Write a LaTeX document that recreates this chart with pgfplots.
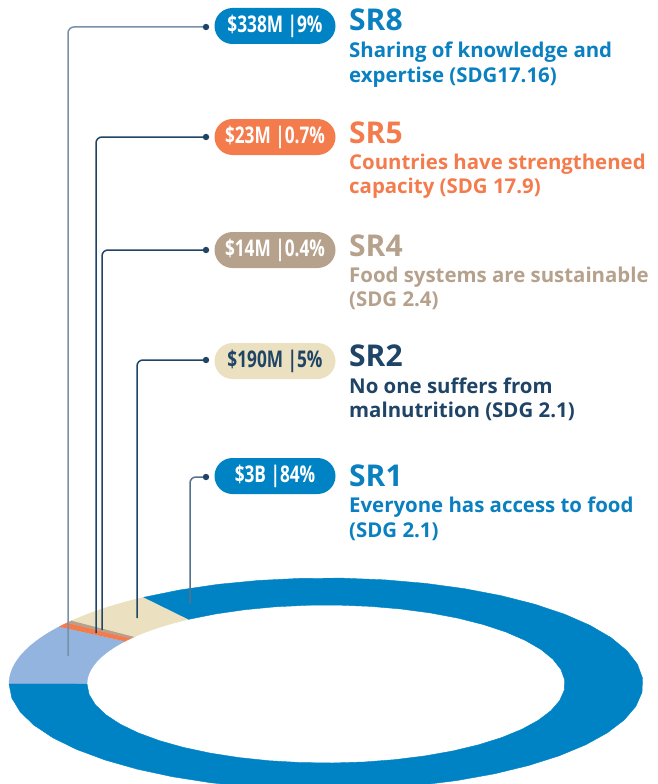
\documentclass[border=0pt]{standalone}
\usepackage{pgfplots}
\pgfplotsset{compat=1.18}
\usepackage{pgfplotstable}
\usepackage{fontspec}
\setmainfont{Open Sans}
\newfontfamily\pillfont[FakeStretch=0.75]{Open Sans}
\newfontfamily\descfont{Open Sans}
\definecolor{srblue}{HTML}{0083C4}
\definecolor{srtxtblue}{HTML}{0A80C0}
\definecolor{srlight}{HTML}{93B4DF}
\definecolor{srorange}{HTML}{F47B4C}
\definecolor{srtan}{HTML}{B5A18C}
\definecolor{srbeige}{HTML}{EBE0BF}
\definecolor{srnavy}{HTML}{1F4466}
\definecolor{srgrey}{HTML}{7890A8}

\pgfplotstableread{
name pct
SR8 9
SR5 0.7
SR4 0.4
SR2 5
SR1 84
}\shares
\pgfplotstablegetelem{0}{pct}\of\shares \let\pA\pgfplotsretval
\pgfplotstablegetelem{1}{pct}\of\shares \let\pB\pgfplotsretval
\pgfplotstablegetelem{2}{pct}\of\shares \let\pC\pgfplotsretval
\pgfplotstablegetelem{3}{pct}\of\shares \let\pD\pgfplotsretval
\pgfplotstablegetelem{4}{pct}\of\shares \let\pE\pgfplotsretval
\pgfmathsetmacro\tot{\pA+\pB+\pC+\pD+\pE}
\pgfmathsetmacro\aA{180-(\pA/\tot)*360}
\pgfmathsetmacro\aB{\aA-(\pB/\tot)*360}
\pgfmathsetmacro\aC{\aB-(\pC/\tot)*360}
\pgfmathsetmacro\aD{\aC-(\pD/\tot)*360}
\pgfmathsetmacro\aE{\aD-(\pE/\tot)*360}

% ring segment from angle #2 to #3
\newcommand{\seg}[3]{%
 \addplot[fill=#1, draw=#1, line width=0.4pt, samples at={0,1,...,81}, variable=\s]
 ({326+ifthenelse(\s<=40,317,239)*cos(ifthenelse(\s<=40,#2+(#3-#2)*\s/40,#3+(#2-#3)*(\s-41)/40))},
  {684-ifthenelse(\s<=40,106,79)*sin(ifthenelse(\s<=40,#2+(#3-#2)*\s/40,#3+(#2-#3)*(\s-41)/40))});
}
\newcommand{\pill}[4]{% y, fill, text colour, text
 \node[fill=#2, text=#3, rounded corners=18pt, minimum width=121pt, minimum height=36pt, inner sep=0pt]
   at (axis cs:275,#1) {\pillfont\bfseries\fontsize{23}{23}\selectfont #4};
}
\newcommand{\entry}[7]{% colour, y1, y2, y3, title, line1, line2
 \node[anchor=base west, text=#1, inner sep=0pt] at (axis cs:349,#2) {\fontsize{30}{30}\selectfont\bfseries #5};
 \node[anchor=base west, text=#1, inner sep=0pt] at (axis cs:349,#3) {\descfont\bfseries\fontsize{20.4}{20.4}\selectfont #6};
 \node[anchor=base west, text=#1, inner sep=0pt] at (axis cs:349,#4) {\descfont\bfseries\fontsize{20.4}{20.4}\selectfont #7};
}
\newcommand{\leader}[4]{% colour, y, x
 \addplot[#1, line width=1.5pt, rounded corners=6pt, mark=*, mark indices={1}, mark size=2.4pt, mark options={fill=srnavy, draw=srnavy}] coordinates {(206,#2) (#3,#2) (#3,#4)};
}

\begin{document}
\begin{tikzpicture}
\useasboundingbox (0,0) rectangle (657pt,784pt);
\begin{axis}[
  at={(0,0)}, anchor=south west,
  scale only axis, width=657pt, height=784pt,
  xmin=0, xmax=657, ymin=0, ymax=784, y dir=reverse,
  hide axis, clip=true,
]
\seg{srlight}{180}{\aA}
\seg{srorange}{\aA}{\aB}
\seg{srtan}{\aB}{\aC}
\seg{srbeige}{\aC}{\aD}
\seg{srblue}{\aD}{\aE}

\leader{srgrey}{27}{68}{656}
\leader{srnavy}{137}{96}{633}
\leader{srnavy}{250}{102}{630}
\leader{srnavy}{360}{137}{618}
\leader{srgrey!60!srnavy}{477}{190}{604}

\pill{26}{srblue}{white}{\$338M |9\%}
\pill{137}{srorange}{white}{\$23M |0.7\%}
\pill{250}{srtan}{white}{\$14M |0.4\%}
\pill{361}{srbeige}{srnavy}{\$190M |5\%}
\pill{476}{srblue}{white}{\$3B |84\%}

\entry{srtxtblue}{31}{57}{82}{SR8}{Sharing of knowledge and}{expertise (SDG17.16)}
\entry{srorange}{143}{169}{193}{SR5}{Countries have strengthened}{capacity (SDG 17.9)}
\entry{srtan}{256}{282}{306}{SR4}{Food systems are sustainable}{(SDG 2.4)}
\entry{srnavy}{366}{393}{417}{SR2}{No one suffers from}{malnutrition (SDG 2.1)}
\entry{srtxtblue}{486}{512}{537}{SR1}{Everyone has access to food}{(SDG 2.1)}
\end{axis}
\end{tikzpicture}
\end{document}
